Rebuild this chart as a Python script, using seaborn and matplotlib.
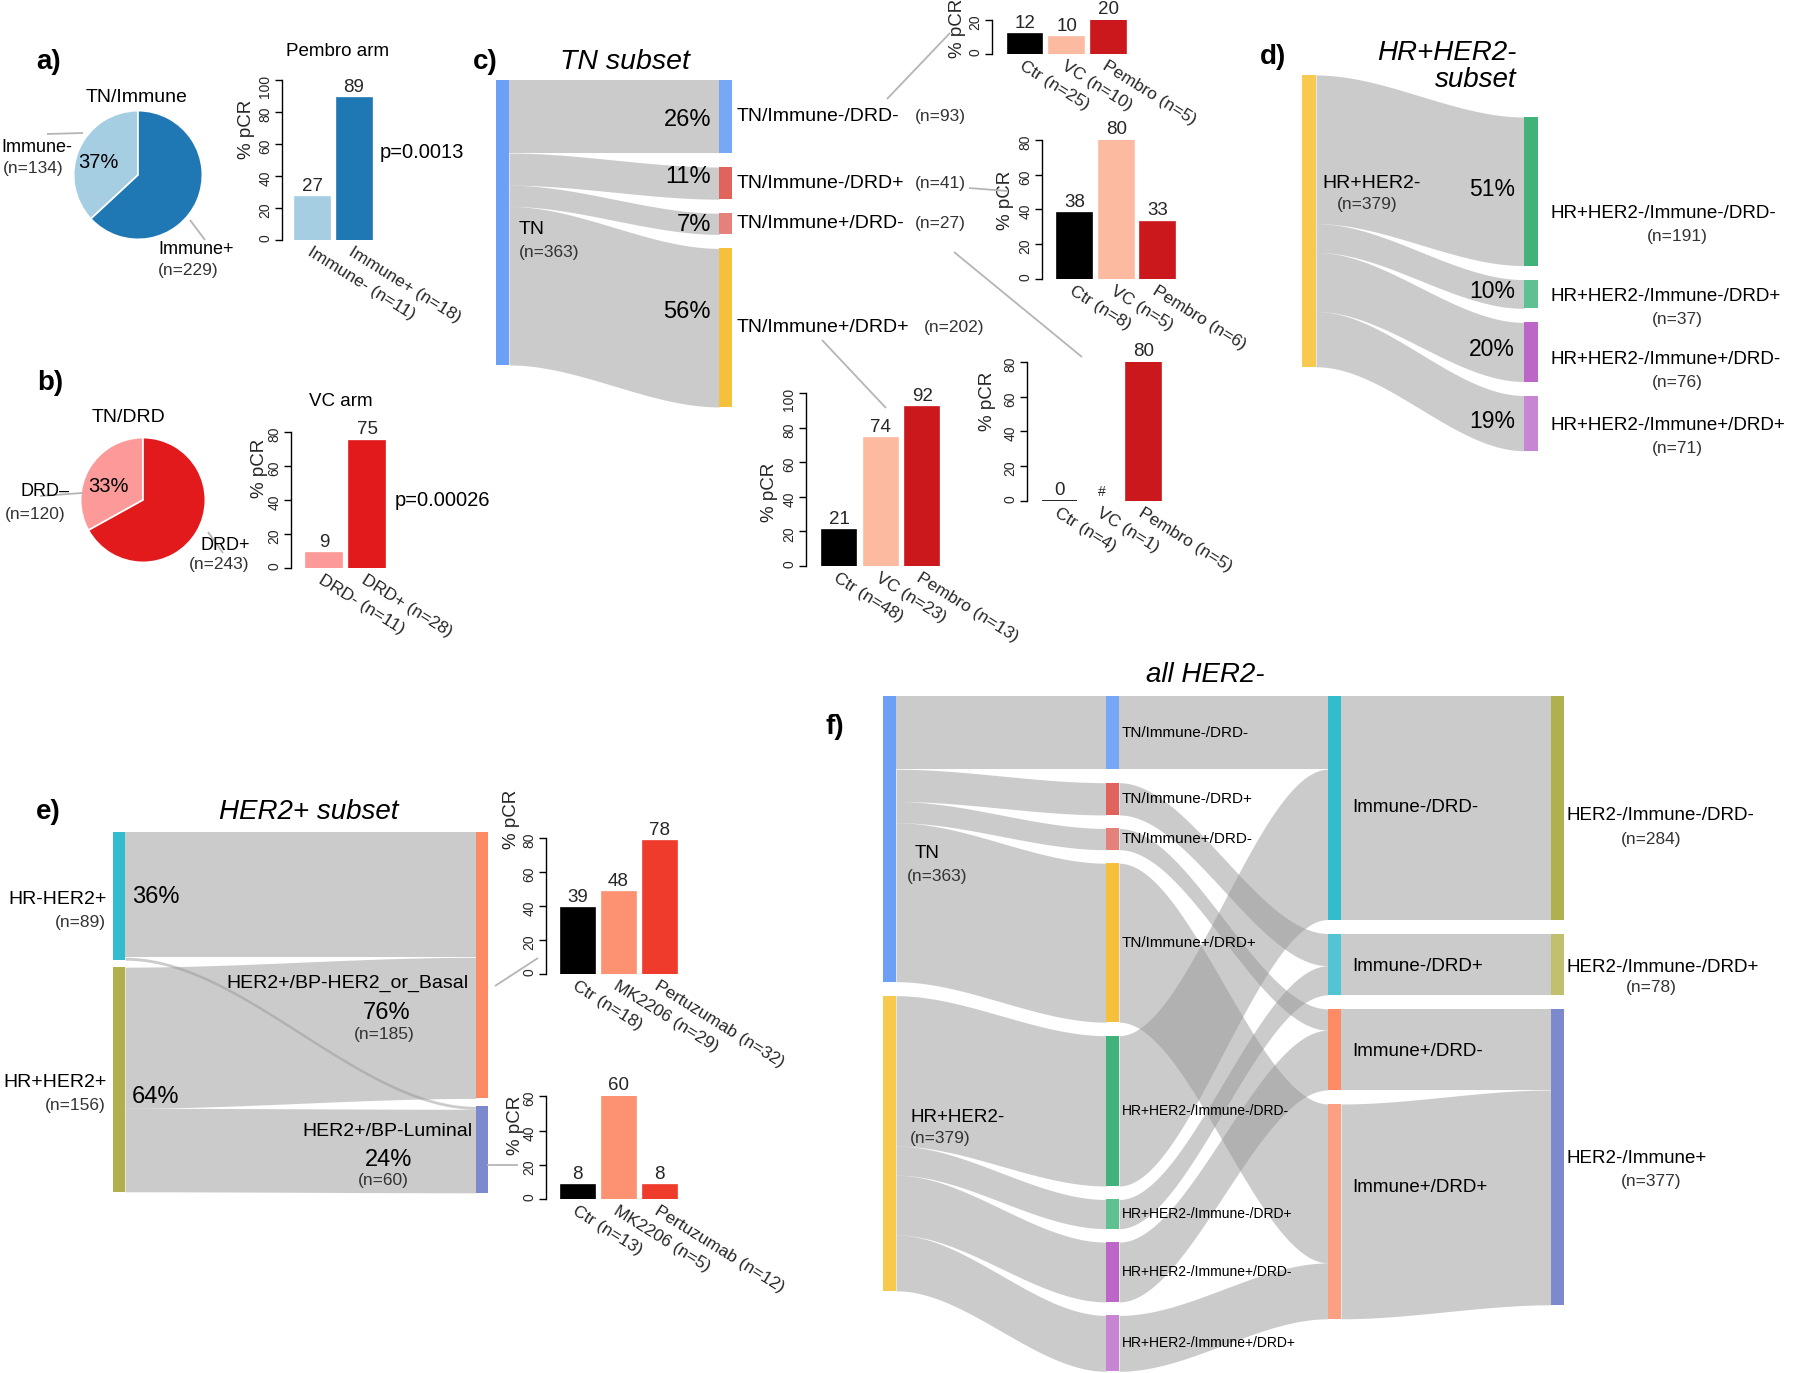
import numpy as np
import pandas as pd
import seaborn as sns
import matplotlib.pyplot as plt
from matplotlib.patches import Rectangle

sns.set_style("white")
plt.rcParams["font.family"] = ["Liberation Sans", "DejaVu Sans"]

W, H = 1800, 1373
NGREY = "#333333"
LINE = "#b5b5b5"

# ---------------- data ----------------
# a) TN / Immune pie + Pembro arm
immune_labels = ["Immune-", "Immune+"]
immune_n = [134, 229]
immune_colors = ["#a6cee3", "#1f78b4"]
pembro_groups = ["Immune- (n=11)", "Immune+ (n=18)"]
pembro_pcr = [27, 89]
pembro_p = "p=0.0013"

# b) TN / DRD pie + VC arm
drd_labels = ["DRD–", "DRD+"]
drd_n = [120, 243]
drd_colors = ["#fb9a99", "#e31a1c"]
vc_groups = ["DRD- (n=11)", "DRD+ (n=28)"]
vc_pcr = [9, 75]
vc_p = "p=0.00026"

# c) TN subset
tn_total = 363
tn_subtypes = ["TN/Immune-/DRD-", "TN/Immune-/DRD+", "TN/Immune+/DRD-", "TN/Immune+/DRD+"]
tn_n = [93, 41, 27, 202]
tn_pct = ["26%", "11%", "7%", "56%"]
arm_colors_c = ["#000000", "#fcbba1", "#cb181d"]
c1_groups = ["Ctr (n=25)", "VC (n=10)", "Pembro (n=5)"]
c1_pcr = [12, 10, 20]
c2_groups = ["Ctr (n=8)", "VC (n=5)", "Pembro (n=6)"]
c2_pcr = [38, 80, 33]
c3_groups = ["Ctr (n=4)", "VC (n=1)", "Pembro (n=5)"]
c3_pcr = [0, np.nan, 80]
c3_text = ["0", "#", "80"]
c4_groups = ["Ctr (n=48)", "VC (n=23)", "Pembro (n=13)"]
c4_pcr = [21, 74, 92]

# d) HR+HER2- subset
hr_total = 379
hr_subtypes = ["HR+HER2-/Immune-/DRD-", "HR+HER2-/Immune-/DRD+",
               "HR+HER2-/Immune+/DRD-", "HR+HER2-/Immune+/DRD+"]
hr_n = [191, 37, 76, 71]
hr_pct = ["51%", "10%", "20%", "19%"]

# e) HER2+ subset
her2_sources = ["HR-HER2+", "HR+HER2+"]
her2_source_n = [89, 156]
her2_source_pct = ["36%", "64%"]
her2_targets = ["HER2+/BP-HER2_or_Basal", "HER2+/BP-Luminal"]
her2_target_n = [185, 60]
her2_target_pct = ["76%", "24%"]
her2_flow_src = ["HR-HER2+", "HR-HER2+", "HR+HER2+", "HR+HER2+"]
her2_flow_tgt = ["HER2+/BP-HER2_or_Basal", "HER2+/BP-Luminal",
                 "HER2+/BP-HER2_or_Basal", "HER2+/BP-Luminal"]
her2_flow_n = [87, 2, 98, 58]
arm_colors_e = ["#000000", "#fc9272", "#ef3b2c"]
e1_groups = ["Ctr (n=18)", "MK2206 (n=29)", "Pertuzumab (n=32)"]
e1_pcr = [39, 48, 78]
e2_groups = ["Ctr (n=13)", "MK2206 (n=5)", "Pertuzumab (n=12)"]
e2_pcr = [8, 60, 8]

# f) all HER2-
f_groups = ["TN", "HR+HER2-"]
f_group_n = [363, 379]
f_classes = ["Immune-/DRD-", "Immune-/DRD+", "Immune+/DRD-", "Immune+/DRD+"]
f_final = ["HER2-/Immune-/DRD-", "HER2-/Immune-/DRD+", "HER2-/Immune+"]
f_final_n = [284, 78, 377]
f_class_to_final = [0, 1, 2, 2]

node_colors = {
    "TN": "#6ca0f6", "HR+HER2-": "#f7c94f",
    "TN/Immune-/DRD-": "#77a8f5", "TN/Immune-/DRD+": "#e0645c",
    "TN/Immune+/DRD-": "#e5807a", "TN/Immune+/DRD+": "#f5c13a",
    "HR+HER2-/Immune-/DRD-": "#41b27a", "HR+HER2-/Immune-/DRD+": "#5fc192",
    "HR+HER2-/Immune+/DRD-": "#bc67c8", "HR+HER2-/Immune+/DRD+": "#c885d3",
    "Immune-/DRD-": "#33bbce", "Immune-/DRD+": "#52c4d3",
    "Immune+/DRD-": "#fc8b66", "Immune+/DRD+": "#fca083",
    "HER2-/Immune-/DRD-": "#b1b04e", "HER2-/Immune-/DRD+": "#c0c06e",
    "HER2-/Immune+": "#7c89cc",
    "HR-HER2+": "#33bbce", "HR+HER2+": "#b1b04e",
    "HER2+/BP-HER2_or_Basal": "#fc8b66", "HER2+/BP-Luminal": "#7c89cc",
}

fig = plt.figure(figsize=(W / 100, H / 100), dpi=100, facecolor="white")
cv = fig.add_axes([0, 0, 1, 1])
cv.set_xlim(0, W)
cv.set_ylim(H, 0)
cv.axis("off")
cv.set_zorder(10)  # text layer above pies / bar panels


def txt(x, y, s, size, ha="left", color="black", **kw):
    cv.text(x, y, s, fontsize=size, ha=ha, va="center", color=color, **kw)


def link(x0, y0, x1, y1):
    cv.plot([x0, x1], [y0, y1], color=LINE, lw=1.3, solid_capstyle="butt")


def sankey(columns, flows, col_x, col_top, col_gap, scale, node_w):
    outs, ins = {}, {}
    for s, t, v in flows:
        outs[s] = outs.get(s, 0) + v
        ins[t] = ins.get(t, 0) + v
    pos = {}
    for ci, col in enumerate(columns):
        y = col_top[ci]
        for node in col:
            h = max(outs.get(node, 0), ins.get(node, 0)) * scale
            pos[node] = (col_x[ci], y, y + h)
            y += h + col_gap[ci]
    out_off = {k: 0.0 for k in pos}
    in_off = {k: 0.0 for k in pos}
    for s, t, v in flows:
        xs, xt = pos[s][0] + node_w, pos[t][0]
        a0 = pos[s][1] + out_off[s]
        b0 = pos[t][1] + in_off[t]
        out_off[s] += v * scale
        in_off[t] += v * scale
        xx = np.linspace(xs, xt, 100)
        u = (xx - xs) / (xt - xs)
        k = u * u * (3 - 2 * u)
        top = a0 + (b0 - a0) * k
        cv.fill_between(xx, top, top + v * scale, color="#999999", alpha=0.5, lw=0)
    for node, (x, y0, y1) in pos.items():
        cv.add_patch(Rectangle((x, y0), node_w, y1 - y0, color=node_colors[node], lw=0))
    return pos


def center(p):
    return (p[1] + p[2]) / 2


def bar_chart(values, groups, colors, axis_x, c0, step, bw, y0, ppu, ymax, ystep,
              ylab, vtext=None):
    n = len(values)
    right = c0 + step * (n - 1) + 0.55 * step
    top = y0 - ymax * ppu
    ax = fig.add_axes([axis_x / W, 1 - y0 / H, (right - axis_x) / W, (y0 - top) / H])
    ax.patch.set_alpha(0)
    df = pd.DataFrame({"grp": groups, "pcr": values})
    sns.barplot(data=df, x="grp", y="pcr", hue="grp", order=groups, hue_order=groups,
                palette=dict(zip(groups, colors)), width=bw / step, saturation=1,
                errorbar=None, legend=False, ax=ax)
    for p in ax.patches:
        p.set_edgecolor(p.get_facecolor())
        p.set_linewidth(1.2)
    ax.set_xlim(-(c0 - axis_x) / step, n - 1 + 0.55)
    ax.set_ylim(0, ymax)
    for side in ["top", "right", "bottom"]:
        ax.spines[side].set_visible(False)
    ax.spines["left"].set_bounds(0, ymax)
    ax.spines["left"].set_color("black")
    ax.spines["left"].set_linewidth(1)
    ax.set_yticks(range(0, ymax + 1, ystep))
    ax.tick_params(axis="y", length=5, width=1, labelsize=10, labelrotation=90,
                   pad=2, left=True, color="black")
    ax.tick_params(axis="x", length=0, pad=3)
    ax.set_xlabel("")
    ax.set_xticks(range(n))
    ax.set_xticklabels(groups, fontsize=12.5)
    for lb in ax.get_xticklabels():
        lb.set_rotation(-32)
        lb.set_ha("left")
        lb.set_va("top")
        lb.set_rotation_mode("anchor")
    ax.set_ylabel("% pCR", fontsize=13.5, va="center")
    ax.yaxis.set_label_coords((ylab[0] - axis_x) / (right - axis_x), (y0 - ylab[1]) / (y0 - top))
    if vtext is None:
        vtext = [f"{v:.0f}" for v in values]
    for i, (v, t) in enumerate(zip(values, vtext)):
        yv = 0 if np.isnan(v) else v
        ax.annotate(t, (i, yv), xytext=(0, 1.5), textcoords="offset points",
                    ha="center", va="bottom", fontsize=10 if t == "#" else 13.5,
                    annotation_clip=False)
    return ax


def pie(values, colors, cx, cy, r):
    ax = fig.add_axes([(cx - r) / W, 1 - (cy + r) / H, 2 * r / W, 2 * r / H])
    ax.pie(values, colors=colors, startangle=90, counterclock=True,
           wedgeprops=dict(edgecolor="white", linewidth=1.2))
    ax.set_xlim(-1.01, 1.01)
    ax.set_ylim(-1.01, 1.01)
    ax.set_aspect("equal")
    return ax


# ---------------- a) ----------------
txt(49, 62, "a)", 20, weight="bold", ha="center")
txt(137, 98, "TN/Immune", 14, ha="center")
pie(immune_n, immune_colors, 138, 175, 65)
txt(98, 163, f"{round(100 * immune_n[0] / sum(immune_n))}%", 14.5, ha="center")
txt(37, 147, immune_labels[0], 13, ha="center")
txt(33, 169, f"(n={immune_n[0]})", 12.5, ha="center", color=NGREY)
txt(158, 250, immune_labels[1], 13)
txt(158, 270, f"(n={immune_n[1]})", 12.5, color=NGREY)
link(47, 134, 83, 133)
link(190, 220, 205, 240)
txt(338, 51, "Pembro arm", 13.5, ha="center")
bar_chart(pembro_pcr, pembro_groups, immune_colors, 282, 312.5, 41.5, 35, 240, 1.6,
          100, 20, (247, 129))
txt(380, 153, pembro_p, 14.5)

# ---------------- b) ----------------
txt(50, 383, "b)", 20, weight="bold", ha="center")
txt(128, 417, "TN/DRD", 14, ha="center")
pie(drd_n, drd_colors, 143, 500, 63)
txt(108, 487, f"{round(100 * drd_n[0] / sum(drd_n))}%", 14.5, ha="center")
txt(45, 492, drd_labels[0], 13, ha="center")
txt(35, 515, f"(n={drd_n[0]})", 12.5, ha="center", color=NGREY)
txt(225, 545, drd_labels[1], 13, ha="center")
txt(219, 564, f"(n={drd_n[1]})", 12.5, ha="center", color=NGREY)
link(40, 496, 82, 493)
link(208, 532, 223, 553)
txt(341, 401, "VC arm", 13.5, ha="center")
bar_chart(vc_pcr, vc_groups, drd_colors, 291, 324, 43, 36, 568, 1.7, 80, 20, (259, 468))
txt(395, 500, vc_p, 14.5)

# ---------------- c) ----------------
txt(485, 62, "c)", 20, weight="bold", ha="center")
txt(625, 62, "TN subset", 20.5, ha="center", style="italic")
pos_c = sankey([["TN"], tn_subtypes],
               [("TN", s, v) for s, v in zip(tn_subtypes, tn_n)],
               [496, 719], [80, 80], [0, 14], 0.785, 13)
txt(519, 230, "TN", 14)
txt(519, 253, f"(n={tn_total})", 12.5, color=NGREY)
pct_dy = [3, -6, 1, -16]
n_x = [915, 915, 915, 924]
for i, s in enumerate(tn_subtypes):
    yc = center(pos_c[s])
    txt(pos_c[s][0] - 8, yc + pct_dy[i], tn_pct[i], 17, ha="right")
    txt(737, yc, s, 14)
    txt(n_x[i], yc, f"(n={tn_n[i]})", 12.5, color=NGREY)
link(887, 99, 950, 33)
link(969, 188, 1007, 191)
link(954, 252, 1082, 357)
link(822, 340, 886, 408)
bar_chart(c1_pcr, c1_groups, arm_colors_c, 992, 1025, 41.7, 34.7, 54, 1.7, 20, 20, (958, 28))
bar_chart(c2_pcr, c2_groups, arm_colors_c, 1042, 1074.5, 41.7, 35, 279, 1.74, 80, 20, (1006, 200))
bar_chart(c3_pcr, c3_groups, arm_colors_c, 1027, 1059.5, 42, 35, 501, 1.74, 80, 20, (988, 401),
          vtext=c3_text)
bar_chart(c4_pcr, c4_groups, arm_colors_c, 806, 839, 41.6, 34, 566, 1.73, 100, 20, (770, 492))

# ---------------- d) ----------------
txt(1273, 57, "d)", 20, weight="bold", ha="center")
txt(1517, 53, "HR+HER2-", 20, ha="right", style="italic")
txt(1517, 80, "subset", 20, ha="right", style="italic")
pos_d = sankey([["HR+HER2-"], hr_subtypes],
               [("HR+HER2-", s, v) for s, v in zip(hr_subtypes, hr_n)],
               [1302, 1524], [75, 117], [0, 14], 0.778, 14)
txt(1322, 183, "HR+HER2-", 14)
txt(1367, 205, f"(n={hr_total})", 12.5, ha="center", color=NGREY)
d_lbl_dy = [22, 3, 8, 2]
for i, s in enumerate(hr_subtypes):
    yc = center(pos_d[s])
    txt(1515, yc - 2, hr_pct[i], 16.5, ha="right")
    txt(1550, yc + d_lbl_dy[i], s, 13.5)
    txt(1677, yc + d_lbl_dy[i] + 23, f"(n={hr_n[i]})", 12.5, ha="center", color=NGREY)

# ---------------- e) ----------------
txt(48, 812, "e)", 20, weight="bold", ha="center")
txt(309, 812, "HER2+ subset", 20, ha="center", style="italic")
pos_e = sankey([her2_sources, her2_targets],
               list(zip(her2_flow_src, her2_flow_tgt, her2_flow_n)),
               [113, 476], [832, 832], [7, 8], 1.44, 12)
for i, s in enumerate(her2_sources):
    yc = center(pos_e[s])
    txt(107, yc + 3, s, 14, ha="right")
    txt(106, yc + 26, f"(n={her2_source_n[i]})", 12.5, ha="right", color=NGREY)
txt(132, 897, her2_source_pct[0], 17)
txt(132, 1097, her2_source_pct[1], 17)
txt(469, 983, her2_targets[0], 14, ha="right")
txt(387, 1013, her2_target_pct[0], 17, ha="center")
txt(384, 1034, f"(n={her2_target_n[0]})", 12.5, ha="center", color=NGREY)
txt(472, 1132, her2_targets[1], 14, ha="right")
txt(389, 1160, her2_target_pct[1], 17, ha="center")
txt(383, 1180, f"(n={her2_target_n[1]})", 12.5, ha="center", color=NGREY)
link(495, 986, 538, 958)
link(487, 1165, 518, 1165)
bar_chart(e1_pcr, e1_groups, arm_colors_e, 546, 577.5, 41, 34, 974, 1.7, 80, 20, (511, 819))
bar_chart(e2_pcr, e2_groups, arm_colors_e, 546, 577.5, 41, 34, 1199, 1.71, 60, 20, (515, 1125))

# ---------------- f) ----------------
txt(835, 727, "f)", 20, weight="bold", ha="center")
txt(1205, 675, "all HER2-", 20, ha="center", style="italic")
f_flows = [("TN", s, v) for s, v in zip(tn_subtypes, tn_n)]
f_flows += [("HR+HER2-", s, v) for s, v in zip(hr_subtypes, hr_n)]
f_flows += [(s, f_classes[i], v) for i, (s, v) in enumerate(zip(tn_subtypes, tn_n))]
f_flows += [(s, f_classes[i], v) for i, (s, v) in enumerate(zip(hr_subtypes, hr_n))]
f_flows += [(c, f_final[f_class_to_final[i]], tn_n[i] + hr_n[i]) for i, c in enumerate(f_classes)]
pos_f = sankey([f_groups, tn_subtypes + hr_subtypes, f_classes, f_final], f_flows,
               [883, 1106, 1328, 1551], [696, 696, 696, 696], [14, 13.5, 14, 14], 0.787, 13)
txt(915, 854, "TN", 13.5)
txt(907, 877, f"(n={f_group_n[0]})", 12.5, color=NGREY)
txt(910, 1118, "HR+HER2-", 13.5)
txt(910, 1138, f"(n={f_group_n[1]})", 12.5, color=NGREY)
for s in tn_subtypes:
    txt(1122, center(pos_f[s]), s, 11)
for s in hr_subtypes:
    txt(1122, center(pos_f[s]), s, 10)
cls_dy = [0, 2, 2, -24]
for i, c in enumerate(f_classes):
    txt(1352, center(pos_f[c]) + cls_dy[i], c, 13.5)
fin_dy = [8, 3, 2]
fin_ndy = [24, 20, 23]
for i, c in enumerate(f_final):
    yc = center(pos_f[c]) + fin_dy[i]
    txt(1566, yc, c, 13.5)
    txt(1651, yc + fin_ndy[i], f"(n={f_final_n[i]})", 12.5, ha="center", color=NGREY)

fig.savefig("out.png", dpi=100, facecolor="white")
